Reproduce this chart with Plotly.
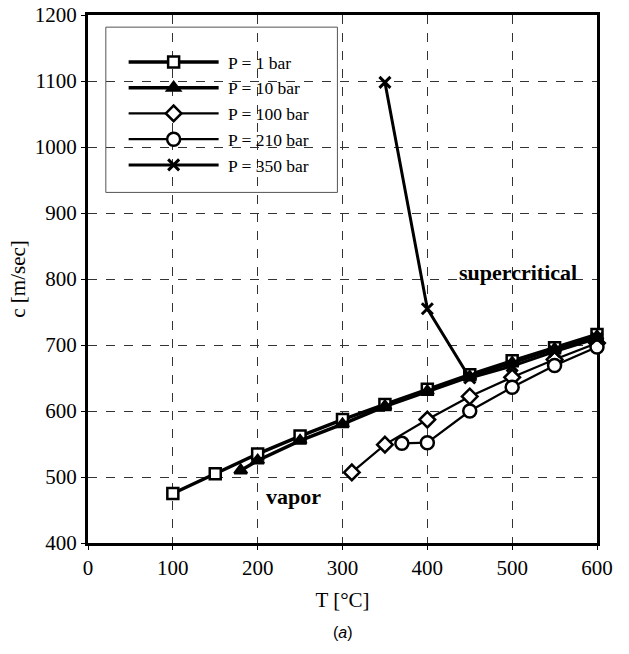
import plotly.graph_objects as go

T_1 = [100, 150, 200, 250, 300, 350, 400, 450, 500, 550, 600]
c_1 = [475, 505, 535, 562, 587, 610, 633, 655, 676, 696, 716]
T_10 = [180, 200, 250, 300, 350, 400, 450, 500, 550, 600]
c_10 = [510, 525, 555, 580, 607, 630, 652, 673, 694, 713]
T_100 = [311, 350, 400, 450, 500, 550, 600]
c_100 = [507, 549, 587, 622, 651, 678, 703]
T_210 = [370, 400, 450, 500, 550, 600]
c_210 = [551, 552, 600, 636, 669, 697]
T_350 = [350, 400, 450, 500, 550, 600]
c_350 = [1098, 755, 650, 668, 690, 710]

names = ["P = 1 bar", "P = 10 bar", "P = 100 bar", "P = 210 bar", "P = 350 bar"]
series = [(T_1, c_1), (T_10, c_10), (T_100, c_100), (T_210, c_210), (T_350, c_350)]
symbols = ["square", "triangle-up", "diamond", "circle", "x-thin"]
fills = ["white", "black", "white", "white", "black"]
sizes = [11, 11, 12, 13, 11]
lwidths = [3.5, 3.5, 2.2, 2.2, 3]

SERIF = "Liberation Serif"

fig = go.Figure()
for (x, y), n, s, f, sz, lw in zip(series, names, symbols, fills, sizes, lwidths):
    fig.add_trace(go.Scatter(
        x=x, y=y, name="\u00a0" + n, mode="lines+markers", cliponaxis=False,
        line=dict(color="black", width=lw),
        marker=dict(symbol=s, size=sz, color=f,
                    line=dict(color="black", width=3 if s == "x-thin" else 2.5)),
    ))

fig.add_annotation(x=507, y=810, text="<b>supercritical</b>", showarrow=False,
                   font=dict(family=SERIF, size=22, color="black"))
fig.add_annotation(x=242, y=470, text="<b>vapor</b>", showarrow=False,
                   font=dict(family=SERIF, size=22, color="black"))
fig.add_annotation(x=0.5, y=-0.19, xref="paper", yref="paper", text="(<i>a</i>)",
                   showarrow=False, font=dict(family="Liberation Sans", size=16, color="black"))

fig.add_shape(type="rect", xref="paper", yref="paper", x0=0.035, x1=0.49, y0=0.664, y1=0.977,
              line=dict(color="#555", width=1), fillcolor="white", layer="below")

axis_common = dict(showline=True, linewidth=3, linecolor="black", mirror=True,
                   showgrid=True, gridcolor="#333", griddash="dash", gridwidth=1,
                   ticks="outside", ticklen=4, tickcolor="black", zeroline=False,
                   automargin=False,
                   tickfont=dict(family=SERIF, size=21, color="black"),
                   layer="below traces")

fig.update_layout(
    width=629, height=654,
    font=dict(family=SERIF, color="black"),
    margin=dict(l=88, r=32, t=15, b=111),
    paper_bgcolor="white", plot_bgcolor="white",
    xaxis=dict(range=[0, 600], dtick=100,
               title=dict(text="T [°C]", font=dict(family=SERIF, size=21, color="black"),
                          standoff=14), **axis_common),
    yaxis=dict(range=[400, 1200], dtick=100,
               title=dict(text="c [m/sec]", font=dict(family=SERIF, size=21, color="black"),
                          standoff=4), **axis_common),
    legend=dict(x=0.07, y=0.945, xanchor="left", yanchor="top", bgcolor="rgba(0,0,0,0)",
                borderwidth=0, itemwidth=90,
                font=dict(family=SERIF, size=17.5, color="black"),
                tracegroupgap=0),
    showlegend=True,
)

fig.write_html("out.html")
